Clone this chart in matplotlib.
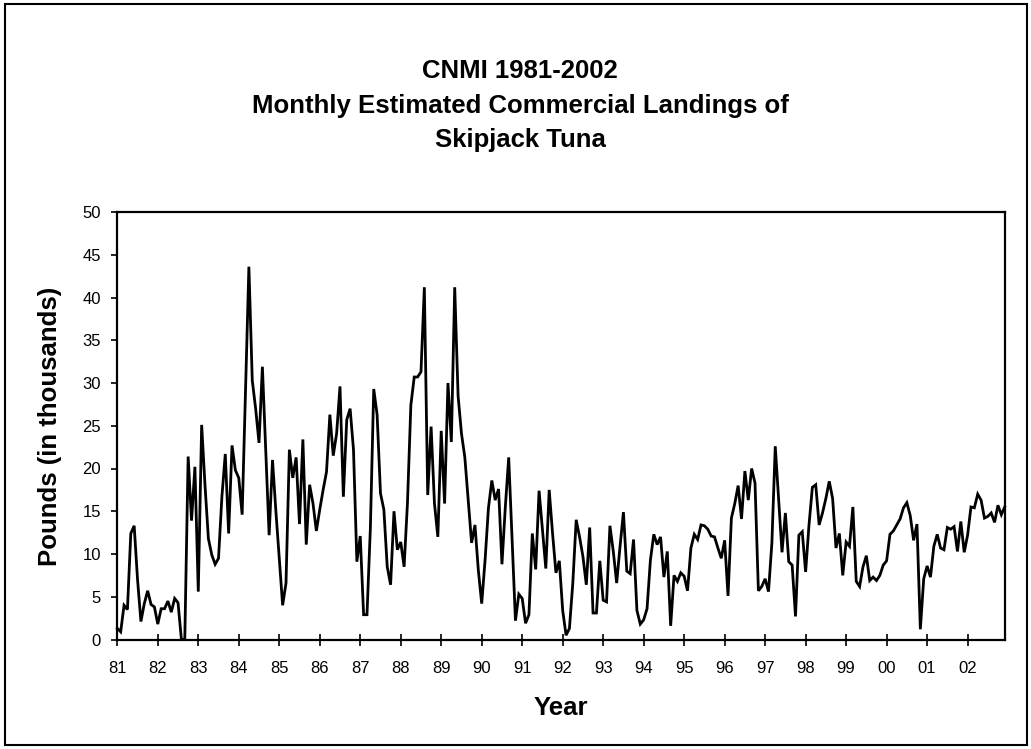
import matplotlib
matplotlib.use('Agg')
import matplotlib.pyplot as plt
from matplotlib.patches import Rectangle

# year tick labels
year_labels = ['81', '82', '83', '84', '85', '86', '87', '88', '89', '90', '91',
               '92', '93', '94', '95', '96', '97', '98', '99', '00', '01', '02']

# monthly landings, pounds in thousands (Jan 1981 - Dec 2002), one row per year
landings = [
    1.3, 0.9, 4.0, 3.5, 12.4, 13.3, 7.0, 2.1, 4.2, 5.7, 4.1, 3.8,
    1.8, 3.6, 3.6, 4.5, 3.2, 4.8, 4.3, 0.0, 0.0, 21.4, 13.9, 20.2,
    5.6, 25.1, 18.0, 11.8, 9.9, 8.8, 9.5, 16.7, 21.7, 12.4, 22.7, 19.8,
    18.9, 14.6, 29.0, 43.6, 30.3, 27.0, 23.0, 31.9, 22.0, 12.2, 21.0, 15.0,
    9.5, 4.0, 6.6, 22.2, 18.9, 21.3, 13.5, 23.4, 11.1, 18.1, 15.9, 12.7,
    15.2, 17.5, 19.6, 26.3, 21.5, 24.1, 29.6, 16.7, 25.7, 27.0, 22.2, 9.1,
    12.1, 2.9, 2.9, 13.0, 29.3, 26.3, 17.1, 15.2, 8.5, 6.4, 15.0, 10.5,
    11.4, 8.5, 16.0, 27.4, 30.7, 30.7, 31.3, 41.2, 16.9, 24.9, 15.9, 12.0,
    24.4, 15.9, 30.0, 23.1, 41.2, 28.5, 24.1, 21.3, 16.3, 11.3, 13.4, 8.1,
    4.2, 9.3, 15.4, 18.6, 16.3, 17.6, 8.8, 15.5, 21.3, 11.6, 2.2, 5.3,
    4.8, 1.9, 2.9, 12.4, 8.2, 17.4, 12.8, 8.3, 17.5, 12.4, 7.8, 9.2,
    3.4, 0.5, 1.3, 6.6, 14.0, 12.0, 9.7, 6.4, 13.1, 3.1, 3.1, 9.2,
    4.6, 4.4, 13.3, 10.3, 6.6, 10.9, 14.9, 8.0, 7.7, 11.7, 3.4, 1.8,
    2.3, 3.6, 9.3, 12.3, 11.1, 12.0, 7.3, 10.3, 1.6, 7.5, 6.8, 7.8,
    7.4, 5.7, 10.7, 12.3, 11.7, 13.4, 13.3, 12.9, 12.1, 12.0, 10.7, 9.5,
    11.6, 5.1, 14.2, 15.9, 18.0, 14.1, 19.7, 16.3, 20.0, 18.3, 5.7, 6.2,
    7.1, 5.6, 11.3, 22.6, 16.3, 10.2, 14.8, 9.1, 8.7, 2.7, 12.2, 12.6,
    7.9, 13.4, 17.8, 18.1, 13.4, 14.8, 16.5, 18.5, 16.5, 10.7, 12.4, 7.5,
    11.4, 10.9, 15.5, 6.8, 6.2, 8.5, 9.8, 6.9, 7.3, 6.9, 7.5, 8.7,
    9.2, 12.3, 12.7, 13.4, 14.1, 15.4, 16.0, 14.5, 11.6, 13.5, 1.2, 7.1,
    8.6, 7.3, 10.9, 12.3, 10.7, 10.5, 13.1, 12.9, 13.2, 10.3, 13.8, 10.2,
    12.2, 15.5, 15.4, 17.0, 16.3, 14.2, 14.4, 14.8, 13.7, 15.7, 14.6, 15.5,
]

plt.rcParams['font.family'] = ['Liberation Sans', 'DejaVu Sans']

W, H = 1031, 749
fig = plt.figure(figsize=(W / 100, H / 100), dpi=100)
ax = fig.add_axes([117.3 / W, 1 - 639.5 / H, (1004.7 - 117.3) / W, (639.5 - 212) / H])

months = list(range(len(landings)))
ax.plot(months, landings, color='black', lw=2.0, solid_joinstyle='miter', clip_on=False)

ax.set_xlim(0, len(landings) - 1)
ax.set_ylim(0, 50)
ax.set_yticks(range(0, 51, 5))
ax.set_xticks(range(0, len(landings), 12))
ax.set_xticklabels(year_labels)

for s in ax.spines.values():
    s.set_linewidth(1.6)
ax.tick_params(axis='x', direction='inout', length=8.6, width=1.2, pad=11, labelsize=12)
ax.tick_params(axis='y', direction='out', length=4.3, width=1.2, pad=7.5, labelsize=12)

# titles and axis labels placed in figure pixels
fig.text(520 / W, 1 - 78 / H, 'CNMI 1981-2002', ha='center', va='baseline',
         fontsize=18.5, fontweight='bold')
fig.text(520 / W, 1 - 113 / H, 'Monthly Estimated Commercial Landings of', ha='center',
         va='baseline', fontsize=18.5, fontweight='bold')
fig.text(520 / W, 1 - 147 / H, 'Skipjack Tuna', ha='center', va='baseline',
         fontsize=18.5, fontweight='bold')
fig.text(561 / W, 1 - 715 / H, 'Year', ha='center', va='baseline',
         fontsize=18.5, fontweight='bold')
fig.text(50 / W, 1 - 426 / H, 'Pounds (in thousands)', ha='center', va='center',
         rotation=90, fontsize=18.5, fontweight='bold')

# outer chart border
fig.patches.append(Rectangle((5 / W, 4 / H), 1022 / W, 741 / H, transform=fig.transFigure,
                             fill=False, ec='black', lw=1.5))

fig.savefig('out.png', dpi=100)
